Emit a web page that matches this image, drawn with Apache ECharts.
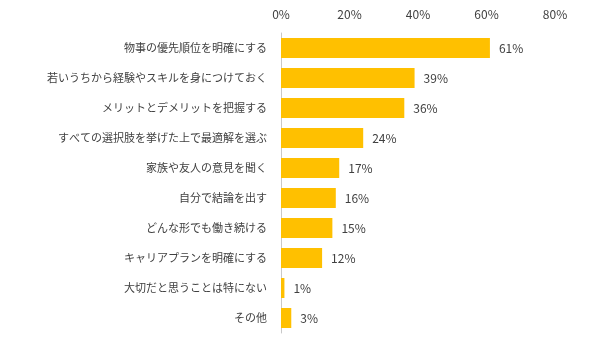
<!DOCTYPE html>
<html><head><meta charset="utf-8">
<script src="https://cdn.jsdelivr.net/npm/echarts@6/dist/echarts.min.js"></script>
<style>html,body{margin:0;padding:0;background:#fff}#c{width:600px;height:344px}</style>
</head><body><div id="c"></div>
<script>
const categories = ["物事の優先順位を明確にする","若いうちから経験やスキルを身につけておく","メリットとデメリットを把握する","すべての選択肢を挙げた上で最適解を選ぶ","家族や友人の意見を聞く","自分で結論を出す","どんな形でも働き続ける","キャリアプランを明確にする","大切だと思うことは特にない","その他"];
const values = [61,39,36,24,17,16,15,12,1,3];
const tickLabels = ["0%","20%","40%","60%","80%"];
const chart = echarts.init(document.getElementById('c'));
const font = '"Noto Sans CJK JP", sans-serif';
chart.setOption({
  animation:false,
  grid:{left:281,right:45,top:33,bottom:11,containLabel:false},
  xAxis:{type:'value',position:'top',min:0,max:80,interval:20,
    axisLine:{show:false},axisTick:{show:false},splitLine:{show:false},
    axisLabel:{formatter:v=>tickLabels[v/20],color:'#404040',fontSize:12,fontFamily:font,margin:13}},
  yAxis:{type:'category',inverse:true,data:categories,
    axisLine:{show:true,lineStyle:{color:'#c8c8c8',width:1}},axisTick:{show:false},
    axisLabel:{color:'#404040',fontSize:11,fontFamily:font,margin:14}},
  series:[{type:'bar',data:values,barWidth:20,itemStyle:{color:'#FFC000'},
    label:{show:true,position:'right',distance:9,formatter:'{c}%',color:'#404040',fontSize:12,fontFamily:font}}]
});
</script></body></html>
